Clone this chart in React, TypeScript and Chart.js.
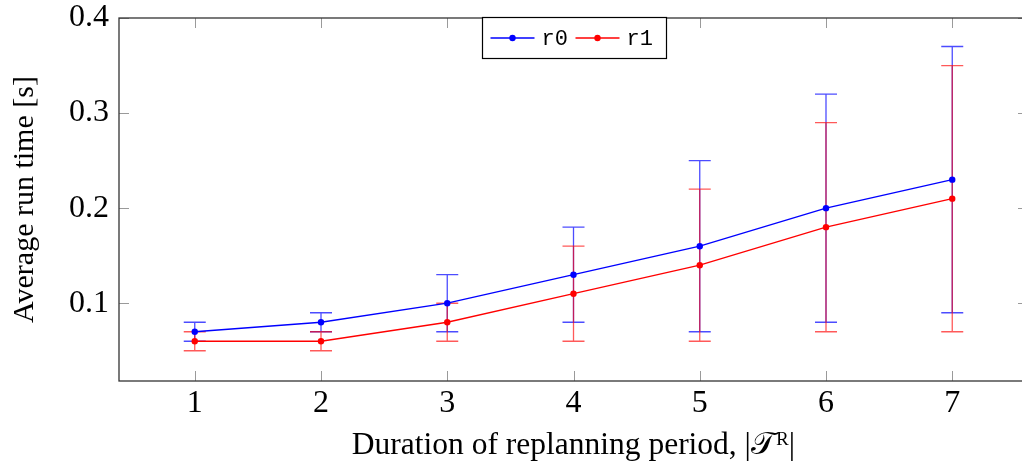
import React, { useEffect, useRef } from "react";
import { Chart, registerables } from "chart.js";

Chart.register(...registerables);

const periods = [1, 2, 3, 4, 5, 6, 7];
const r0Mean = [0.07, 0.08, 0.1, 0.13, 0.16, 0.2, 0.23];
const r0Low = [0.06, 0.07, 0.07, 0.08, 0.07, 0.08, 0.09];
const r0High = [0.08, 0.09, 0.13, 0.18, 0.25, 0.32, 0.37];
const r1Mean = [0.06, 0.06, 0.08, 0.11, 0.14, 0.18, 0.21];
const r1Low = [0.05, 0.05, 0.06, 0.06, 0.06, 0.07, 0.07];
const r1High = [0.07, 0.07, 0.1, 0.16, 0.22, 0.29, 0.35];
const xTicks = [1, 2, 3, 4, 5, 6, 7];
const yTicks = [0.1, 0.2, 0.3, 0.4];
const seriesNames = ["r0", "r1"];

const SERIF = "'Liberation Serif', 'Times New Roman', serif";
const MONO = "'Liberation Mono', 'DejaVu Sans Mono', monospace";

const errorBarPlugin = {
  id: "errorBars",
  beforeDatasetsDraw(chart: any) {
    const { ctx, chartArea, scales } = chart;
    const xs = scales.x;
    const ys = scales.y;
    ctx.save();
    ctx.beginPath();
    ctx.rect(chartArea.left, chartArea.top, chartArea.right - chartArea.left, chartArea.bottom - chartArea.top);
    ctx.clip();
    chart.data.datasets.forEach((ds: any) => {
      const low = ds.errLow as number[];
      const high = ds.errHigh as number[];
      ctx.strokeStyle = ds.errColor;
      ctx.lineWidth = 1.3;
      ds.data.forEach((p: any, i: number) => {
        const x = xs.getPixelForValue(p.x);
        const yl = ys.getPixelForValue(low[i]);
        const yh = ys.getPixelForValue(high[i]);
        ctx.beginPath();
        ctx.moveTo(x, yl);
        ctx.lineTo(x, yh);
        ctx.moveTo(x - 11, yl);
        ctx.lineTo(x + 11, yl);
        ctx.moveTo(x - 11, yh);
        ctx.lineTo(x + 11, yh);
        ctx.stroke();
      });
    });
    ctx.restore();
  },
  afterDraw(chart: any) {
    const { ctx, chartArea, scales } = chart;
    const { left, right, top, bottom } = chartArea;
    ctx.save();
    ctx.strokeStyle = "#9a9a9a";
    ctx.lineWidth = 1;
    xTicks.forEach((v) => {
      const x = Math.round(scales.x.getPixelForValue(v)) + 0.5;
      ctx.beginPath();
      ctx.moveTo(x, bottom);
      ctx.lineTo(x, bottom - 10);
      ctx.moveTo(x, top);
      ctx.lineTo(x, top + 10);
      ctx.stroke();
    });
    yTicks.forEach((v) => {
      const y = Math.round(scales.y.getPixelForValue(v)) + 0.5;
      ctx.beginPath();
      ctx.moveTo(left, y);
      ctx.lineTo(left + 10, y);
      ctx.moveTo(right, y);
      ctx.lineTo(right - 10, y);
      ctx.stroke();
    });
    ctx.strokeStyle = "#333";
    ctx.lineWidth = 1.3;
    ctx.strokeRect(left, top, right - left, bottom - top);

    const cx = (left + right) / 2;
    const boxW = 184;
    const boxH = 41;
    const bx = Math.round(cx - boxW / 2) + 0.5;
    const by = Math.round(top - 1) + 0.5;
    ctx.fillStyle = "#fff";
    ctx.fillRect(bx, by, boxW, boxH);
    ctx.strokeStyle = "#000";
    ctx.lineWidth = 1.2;
    ctx.strokeRect(bx, by, boxW, boxH);
    const ly = by + boxH / 2;
    ctx.font = `22px ${MONO}`;
    ctx.textBaseline = "middle";
    ctx.textAlign = "left";
    let px = bx + 8;
    chart.data.datasets.forEach((ds: any, i: number) => {
      ctx.strokeStyle = ds.borderColor;
      ctx.lineWidth = 1.3;
      ctx.beginPath();
      ctx.moveTo(px, ly);
      ctx.lineTo(px + 44, ly);
      ctx.stroke();
      ctx.fillStyle = ds.borderColor;
      ctx.beginPath();
      ctx.arc(px + 22, ly, 3.2, 0, Math.PI * 2);
      ctx.fill();
      ctx.fillStyle = "#000";
      ctx.fillText(seriesNames[i], px + 51, ly + 1);
      px += 85;
    });
    ctx.restore();
  },
};

const zeroPadding = (s: any) => {
  s.paddingTop = 0;
  s.paddingBottom = 0;
  s.paddingLeft = 0;
  s.paddingRight = 0;
};

export default function App() {
  const canvasRef = useRef<HTMLCanvasElement>(null);

  useEffect(() => {
    document.body.style.margin = "0";
    const canvas = canvasRef.current!;
    const chart = new Chart(canvas, {
      type: "line",
      data: {
        datasets: [
          {
            label: seriesNames[0],
            data: periods.map((p, i) => ({ x: p, y: r0Mean[i] })),
            borderColor: "#0000ff",
            backgroundColor: "#0000ff",
            borderWidth: 1.3,
            pointRadius: 3.2,
            pointBorderWidth: 0,
            pointBackgroundColor: "#0000ff",
            errLow: r0Low,
            errHigh: r0High,
            errColor: "rgba(0,0,255,0.7)",
          } as any,
          {
            label: seriesNames[1],
            data: periods.map((p, i) => ({ x: p, y: r1Mean[i] })),
            borderColor: "#ff0000",
            backgroundColor: "#ff0000",
            borderWidth: 1.3,
            pointRadius: 3.2,
            pointBorderWidth: 0,
            pointBackgroundColor: "#ff0000",
            errLow: r1Low,
            errHigh: r1High,
            errColor: "rgba(255,0,0,0.65)",
          } as any,
        ],
      },
      options: {
        responsive: false,
        animation: false,
        layout: { padding: { top: 18, left: 0, right: 0, bottom: 0 } },
        plugins: {
          legend: { display: false },
          tooltip: { enabled: false },
        },
        scales: {
          x: {
            type: "linear",
            min: 0.4,
            max: 7.6,
            afterFit: (s: any) => {
              s.height = 84;
              zeroPadding(s);
            },
            afterBuildTicks: (s: any) => {
              s.ticks = xTicks.map((v) => ({ value: v }));
            },
            grid: { display: false, drawTicks: false },
            border: { display: false },
            ticks: {
              padding: 5,
              color: "#000",
              font: { family: SERIF, size: 32, lineHeight: 1.12 },
              callback: (v: any) => String(v),
            },
            title: {
              display: true,
              text: "Duration of replanning period, |𝒯ᴿ|",
              color: "#000",
              font: { family: SERIF, size: 31.5 },
              padding: { top: 0, bottom: 0 },
            },
          },
          y: {
            type: "linear",
            min: 0.0182,
            max: 0.4,
            afterFit: (s: any) => {
              s.width = 119;
              zeroPadding(s);
            },
            afterBuildTicks: (s: any) => {
              s.ticks = yTicks.map((v) => ({ value: v }));
            },
            grid: { display: false, drawTicks: false },
            border: { display: false },
            ticks: {
              padding: 10,
              color: "#000",
              font: { family: SERIF, size: 32, lineHeight: 1.12 },
              callback: (v: any) => String(Math.round(v * 10) / 10),
            },
            title: {
              display: true,
              text: "Average run time [s]",
              color: "#000",
              font: { family: SERIF, size: 30 },
              padding: { top: 7, bottom: 0 },
            },
          },
        },
      },
      plugins: [errorBarPlugin],
    });
    return () => chart.destroy();
  }, []);

  return (
    <div style={{ width: 1022, height: 465, overflow: "hidden", position: "relative" }}>
      <canvas ref={canvasRef} width={1032} height={465} style={{ display: "block" }} />
    </div>
  );
}
